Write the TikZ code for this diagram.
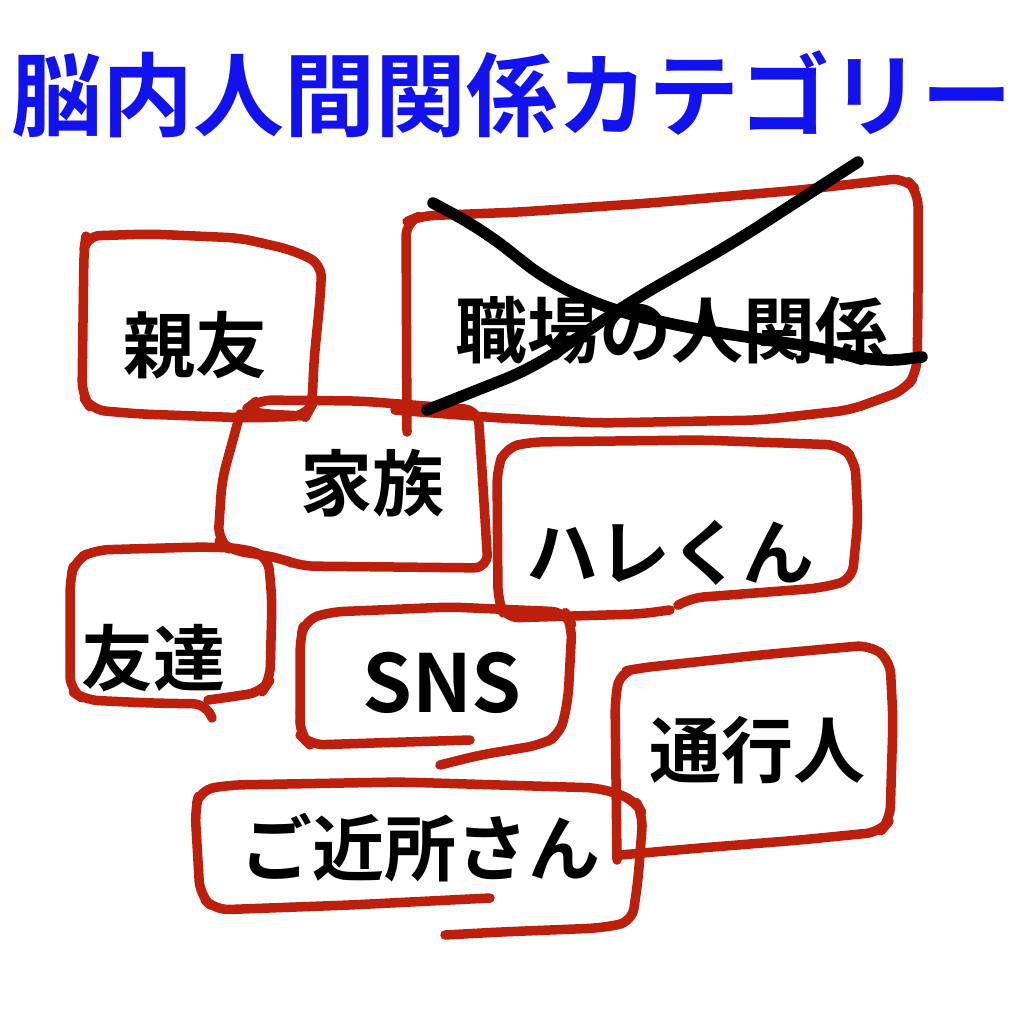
\documentclass[tikz,border=0pt]{standalone}
\usepackage{fontspec}
\usetikzlibrary{decorations.pathmorphing}
\newfontfamily\jp{Noto Sans CJK JP}[BoldFont={Noto Sans CJK JP Bold}]
\definecolor{pen}{RGB}{188,32,12}
\definecolor{ttl}{RGB}{18,18,238}
\begin{document}
\begin{tikzpicture}[x=1pt,y=-1pt,
  redbox/.style={draw=pen,line width=9.5pt,rounded corners=14pt,line cap=round,line join=round,
    postaction={draw=pen,line width=3pt,sharp corners,decorate,decoration={random steps,segment length=3pt,amplitude=3pt}}},
  cross/.style={draw=black,line width=11.5pt,rounded corners=30pt,line cap=round,line join=round,
    postaction={draw=black,line width=3pt,sharp corners,decorate,decoration={random steps,segment length=3pt,amplitude=3.5pt}}},
  lbl/.style={font=\jp\bfseries\fontsize{72}{80}\selectfont,text=black,inner sep=0pt},
  ttlstyle/.style={font=\jp\bfseries\fontsize{91}{100}\selectfont,text=ttl,inner sep=0pt}]
\useasboundingbox[fill=white] (0,0) rectangle (1024,1024);
% title
\node[ttlstyle] (title) at (512,94) {脳内人間関係カテゴリー};
% 親友
\draw[redbox] (84,250) -- (86,236) -- (150,234) -- (240,238) -- (292,250) -- (322,264) -- (320,300) -- (314,360) -- (312,405) -- (306,416) -- (250,418) -- (140,414) -- (92,410) -- (82,395) -- cycle;
% 職場の人関係
\draw[redbox] (407,432) -- (406,222) -- (420,216) -- (520,212) -- (650,203) -- (800,190) -- (905,178) -- (918,192) -- (918,300) -- (917,372) -- (905,390) -- (850,410) -- (760,420) -- (600,423) -- (500,418) -- (420,412) -- (395,410);
% 家族
\draw[redbox] (305,416) -- (262,414) -- (245,410) -- (258,400) -- (360,401) -- (478,410) -- (482,470) -- (488,568) -- (300,566) -- (280,558) -- (230,550) -- (218,540) -- (222,480) -- (240,414);
% ハレくん
\draw[redbox] (670,610) -- (640,614) -- (505,618) -- (498,600) -- (497,470) -- (505,448) -- (530,442) -- (700,440) -- (840,445) -- (855,460) -- (858,520) -- (852,580) -- (820,588) -- (690,598) -- (680,604);
% 友達
\draw[redbox] (212,718) -- (207,704) -- (150,703) -- (85,700) -- (70,690) -- (70,580) -- (75,560) -- (95,550) -- (200,547) -- (240,548) -- (268,556) -- (272,600) -- (270,680) -- (262,692) -- (230,697) -- (208,700);
% SNS
\draw[redbox] (470,740) -- (310,745) -- (300,735) -- (300,640) -- (305,620) -- (330,612) -- (450,607) -- (565,612) -- (572,625) -- (568,700) -- (560,735) -- (540,745) -- (480,755) -- (440,765);
% 通行人
\draw[redbox] (617,860) -- (615,700) -- (620,672) -- (640,668) -- (760,655) -- (870,645) -- (890,660) -- (893,720) -- (890,820) -- (880,832) -- (800,840) -- (700,848) -- (620,855);
% ご近所さん
\draw[redbox] (490,898) -- (350,905) -- (215,910) -- (200,895) -- (195,810) -- (200,790) -- (230,785) -- (400,782) -- (600,788) -- (635,800) -- (643,815) -- (638,880) -- (632,922) -- (600,928) -- (500,932) -- (445,935);
% labels
\node[lbl] (shinyu) at (195,345) {親友};
\node[lbl] (shokuba) at (671,330) {職場の人関係};
\node[lbl] (kazoku) at (372,483) {家族};
\node[lbl] (hare) at (670,553) {ハレくん};
\node[lbl] (tomodachi) at (153,658) {友達};
\node[lbl,font=\jp\bfseries\fontsize{80}{88}\selectfont] (sns) at (442,683) {SNS};
\node[lbl] (tsuko) at (757,750) {通行人};
\node[lbl] (kinjo) at (420,848) {ご近所さん};
% cross
\draw[cross] (433,203) -- (483,230) -- (550,283) -- (617,312) -- (700,330) -- (767,340) -- (833,350) -- (873,363) -- (922,357);
\draw[cross] (427,410) -- (533,368) -- (633,300) -- (733,243) -- (858,162);
\end{tikzpicture}
\end{document}
